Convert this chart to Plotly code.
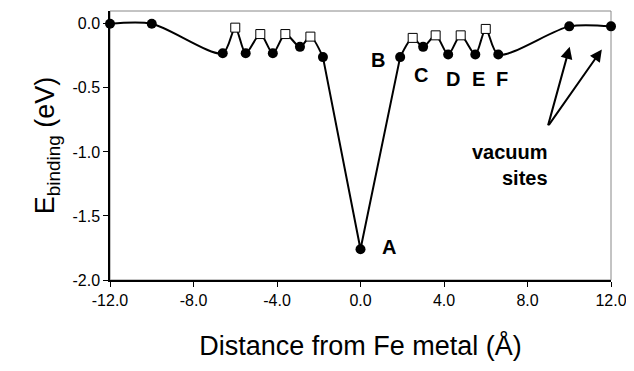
import plotly.graph_objects as go

# Circle sites (filled)
circle_x = [-12.0, -10.0, -6.6, -5.5, -4.2, -2.9, -1.8, 0.0, 1.9, 3.0, 4.2, 5.5, 6.6, 10.0, 12.0]
circle_y = [0.0, 0.0, -0.23, -0.23, -0.23, -0.18, -0.26, -1.76, -0.26, -0.18, -0.24, -0.24, -0.24, -0.02, -0.02]
# Square sites (open)
square_x = [-6.0, -4.8, -3.6, -2.4, 2.5, 3.6, 4.8, 6.0]
square_y = [-0.03, -0.08, -0.08, -0.10, -0.11, -0.09, -0.09, -0.04]

# site labels
label_text = ["A", "B", "C", "D", "E", "F"]
label_x = [1.35, 0.85, 2.9, 4.45, 5.65, 6.8]
label_y = [-1.74, -0.28, -0.40, -0.43, -0.43, -0.43]

# axis ticks
x_ticks = [-12, -8, -4, 0, 4, 8, 12]
x_ticktext = ["-12.0", "-8.0", "-4.0", "0.0", "4.0", "8.0", "12.0"]
y_ticks = [0, -0.5, -1.0, -1.5, -2.0]
y_ticktext = ["0.0", "-0.5", "-1.0", "-1.5", "-2.0"]

pts = sorted(zip(circle_x + square_x, circle_y + square_y))
all_x = [p[0] for p in pts]
all_y = [p[1] for p in pts]
iA = all_x.index(0.0)
left_x, left_y = all_x[:iA], all_y[:iA]
right_x, right_y = all_x[iA + 1:], all_y[iA + 1:]
mid_x, mid_y = all_x[iA - 1:iA + 2], all_y[iA - 1:iA + 2]

fig = go.Figure()
line = dict(color="black", width=2)
fig.add_trace(go.Scatter(x=left_x, y=left_y, mode="lines", line=dict(shape="spline", smoothing=0.8, **line), hoverinfo="skip"))
fig.add_trace(go.Scatter(x=mid_x, y=mid_y, mode="lines", line=line, hoverinfo="skip"))
fig.add_trace(go.Scatter(x=right_x, y=right_y, mode="lines", line=dict(shape="spline", smoothing=0.8, **line), hoverinfo="skip"))
fig.add_trace(go.Scatter(x=square_x, y=square_y, mode="markers",
                         marker=dict(symbol="square", size=9, color="white", line=dict(color="black", width=1)),
                         cliponaxis=False))
fig.add_trace(go.Scatter(x=circle_x, y=circle_y, mode="markers",
                         marker=dict(symbol="circle", size=10, color="black"), cliponaxis=False))

for t, x, y in zip(label_text, label_x, label_y):
    fig.add_annotation(x=x, y=y, text="<b>%s</b>" % t, showarrow=False,
                       font=dict(family="Arial, Liberation Sans", size=20, color="black"))

fig.add_annotation(x=9.1, y=-1.10, xanchor="right", text="<b>vacuum<br>sites</b>", showarrow=False, align="right",
                   font=dict(family="Arial, Liberation Sans", size=20, color="black"))

# arrows to the vacuum sites
fig.add_annotation(x=10.02, y=-0.18, ax=-22, ay=80, text="", showarrow=True,
                   arrowhead=2, arrowsize=1.2, arrowwidth=2, arrowcolor="black")
fig.add_annotation(x=11.56, y=-0.2, ax=-54, ay=77, text="", showarrow=True,
                   arrowhead=2, arrowsize=1.2, arrowwidth=2, arrowcolor="black")

fig.add_shape(type="rect", xref="paper", yref="paper", x0=0, x1=1, y0=0, y1=1,
              line=dict(color="#888888", width=1), layer="below")

fig.update_layout(
    width=626, height=363,
    margin=dict(l=102, r=23, t=3, b=91),
    paper_bgcolor="white", plot_bgcolor="white",
    showlegend=False,
    font=dict(family="Arial, Liberation Sans", color="black"),
    xaxis=dict(range=[-12, 12], tickvals=x_ticks, ticktext=x_ticktext, automargin=False,
               showgrid=False, zeroline=False, showline=True, linecolor="black", linewidth=1.5,
               ticks="outside", ticklen=5, tickcolor="black",
               tickfont=dict(size=16),
               title=dict(text="Distance from Fe metal (Å)", font=dict(size=27), standoff=28)),
    yaxis=dict(range=[-2.0, 0.1], tickvals=y_ticks, ticktext=y_ticktext, automargin=False,
               showgrid=False, zeroline=False, showline=True, linecolor="black", linewidth=1.5,
               ticks="outside", ticklen=5, tickcolor="black",
               tickfont=dict(size=16),
               title=dict(text="E<sub>binding</sub> (eV)", font=dict(size=27), standoff=10)),
)

fig.write_html("out.html")
